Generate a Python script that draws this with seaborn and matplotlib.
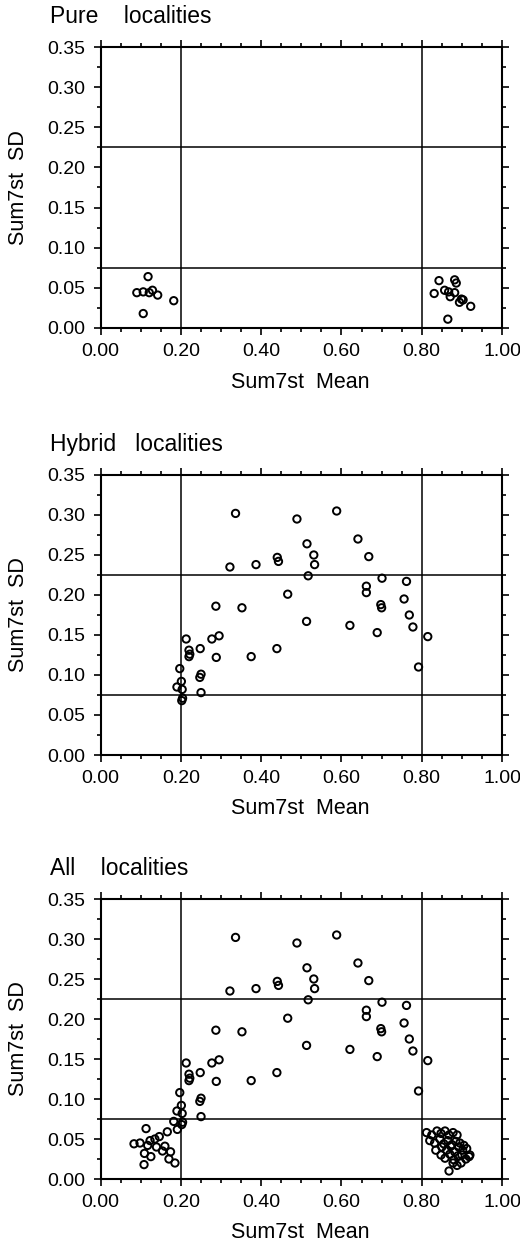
import numpy as np
import pandas as pd
import matplotlib
matplotlib.use("Agg")
import matplotlib.pyplot as plt
from matplotlib.ticker import MultipleLocator, FormatStrFormatter
import seaborn as sns

# ---------------- data ----------------
pure_x = [0.118, 0.090, 0.106, 0.121, 0.129, 0.142, 0.182, 0.106,
          0.843, 0.831, 0.857, 0.867, 0.882, 0.886, 0.882, 0.871, 0.899,
          0.903, 0.894, 0.922, 0.865]
pure_y = [0.064, 0.044, 0.045, 0.044, 0.047, 0.041, 0.034, 0.018,
          0.059, 0.043, 0.047, 0.045, 0.060, 0.056, 0.044, 0.039, 0.036,
          0.035, 0.032, 0.027, 0.011]

hybrid_x = [0.336, 0.489, 0.588, 0.641, 0.514, 0.531, 0.668, 0.440, 0.443,
            0.387, 0.322, 0.533, 0.517, 0.701, 0.762, 0.662, 0.662, 0.466,
            0.756, 0.287, 0.352, 0.698, 0.700, 0.769, 0.513, 0.621, 0.778,
            0.689, 0.815, 0.792, 0.375, 0.439, 0.295, 0.277, 0.213, 0.288,
            0.220, 0.222, 0.220, 0.248, 0.250, 0.247, 0.250, 0.197, 0.190,
            0.201, 0.203, 0.204, 0.202]
hybrid_y = [0.302, 0.295, 0.305, 0.270, 0.264, 0.250, 0.248, 0.247, 0.242,
            0.238, 0.235, 0.238, 0.224, 0.221, 0.217, 0.211, 0.203, 0.201,
            0.195, 0.186, 0.184, 0.188, 0.184, 0.175, 0.167, 0.162, 0.160,
            0.153, 0.148, 0.110, 0.123, 0.133, 0.149, 0.145, 0.145, 0.122,
            0.131, 0.126, 0.123, 0.133, 0.101, 0.097, 0.078, 0.108, 0.085,
            0.092, 0.082, 0.071, 0.068]

# pure samples shown in the "All localities" panel
allpure_x = [0.182, 0.191, 0.113, 0.166, 0.146, 0.123, 0.098, 0.083, 0.117,
             0.139, 0.160, 0.174, 0.154, 0.109, 0.125, 0.108, 0.185, 0.170,
             0.135,
             0.812, 0.825, 0.838, 0.848, 0.858, 0.868, 0.878, 0.888, 0.820,
             0.832, 0.845, 0.855, 0.865, 0.875, 0.885, 0.895, 0.835, 0.850,
             0.862, 0.872, 0.882, 0.892, 0.902, 0.912, 0.920, 0.858, 0.870,
             0.880, 0.890, 0.900, 0.910, 0.918, 0.868, 0.878, 0.888, 0.848,
             0.898, 0.905]
allpure_y = [0.072, 0.062, 0.063, 0.059, 0.053, 0.048, 0.045, 0.044, 0.042,
             0.040, 0.041, 0.034, 0.035, 0.032, 0.028, 0.018, 0.020, 0.025,
             0.050,
             0.058, 0.055, 0.060, 0.057, 0.060, 0.055, 0.058, 0.055, 0.048,
             0.045, 0.050, 0.044, 0.048, 0.043, 0.047, 0.045, 0.036, 0.040,
             0.036, 0.041, 0.034, 0.040, 0.036, 0.038, 0.030, 0.026, 0.031,
             0.024, 0.029, 0.030, 0.025, 0.028, 0.010, 0.020, 0.017, 0.030,
             0.020, 0.042]

titles = ["Pure    localities", "Hybrid   localities", "All    localities"]
xlabel = "Sum7st  Mean"
ylabel = "Sum7st  SD"
vlines = [0.2, 0.8]
hlines = [0.075, 0.225]

# ---------------- figure ----------------
sns.set_theme(style="white")
plt.rcParams["font.family"] = ["Liberation Sans", "DejaVu Sans"]

W, H = 520, 1251
fig = plt.figure(figsize=(W / 100, H / 100), dpi=100)

left, right = 100.7, 502
panels = [(47, 328), (475, 755), (899, 1179)]

data = [
    pd.DataFrame({"x": pure_x, "y": pure_y}),
    pd.DataFrame({"x": hybrid_x, "y": hybrid_y}),
    pd.DataFrame({"x": hybrid_x + allpure_x, "y": hybrid_y + allpure_y}),
]

for (top, bot), df, title in zip(panels, data, titles):
    ax = fig.add_axes([left / W, 1 - bot / H, (right - left) / W, (bot - top) / H])
    for v in vlines:
        ax.axvline(v, color="black", lw=1.1, zorder=1)
    for h in hlines:
        ax.axhline(h, color="black", lw=1.1, zorder=1)
    sns.scatterplot(data=df, x="x", y="y", ax=ax, marker="o", s=28,
                    facecolors="none", edgecolor="black", linewidth=1.4,
                    zorder=3, legend=False)
    ax.set_xlim(0, 1)
    ax.set_ylim(0, 0.35)
    ax.xaxis.set_major_locator(MultipleLocator(0.2))
    ax.xaxis.set_minor_locator(MultipleLocator(0.05))
    ax.yaxis.set_major_locator(MultipleLocator(0.05))
    ax.yaxis.set_minor_locator(MultipleLocator(0.025))
    ax.xaxis.set_major_formatter(FormatStrFormatter("%.2f"))
    ax.yaxis.set_major_formatter(FormatStrFormatter("%.2f"))
    ax.tick_params(which="both", direction="out", top=True, right=True,
                   bottom=True, left=True, color="black", width=1.2)
    ax.tick_params(which="major", length=5, labelsize=14, labelcolor="black")
    ax.tick_params(which="minor", length=3)
    ax.tick_params(axis="y", which="major", pad=6)
    ax.tick_params(axis="x", which="major", pad=6)
    for sp in ax.spines.values():
        sp.set_color("black")
        sp.set_linewidth(1.5)
    ax.set_xlabel(xlabel, fontsize=15.5, color="black")
    ax.set_ylabel(ylabel, fontsize=15.5, color="black")
    ax.xaxis.set_label_coords(0.497, -0.155)
    ax.yaxis.set_label_coords(-0.178, 0.5)
    fig.text(50 / W, 1 - (top - 24) / H, title, fontsize=16.5, ha="left",
             va="baseline", color="black")

fig.savefig("out.png", dpi=100, facecolor="white")
